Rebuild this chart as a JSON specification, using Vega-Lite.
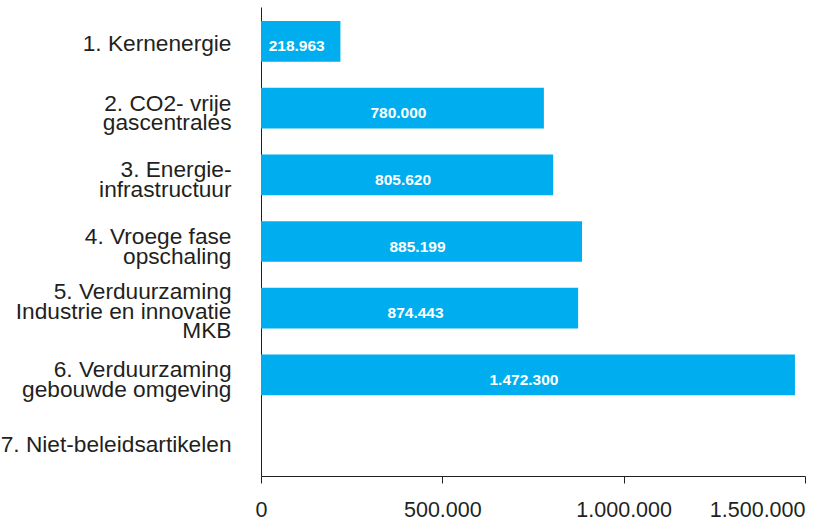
{
  "$schema": "https://vega.github.io/schema/vega-lite/v6.json",
  "width": 544,
  "height": 469,
  "autosize": {"type": "none"},
  "padding": {"left": 261, "top": 7, "right": 13, "bottom": 45},
  "background": "white",
  "config": {
    "view": {"stroke": null},
    "locale": {"number": {"decimal": ",", "thousands": ".", "grouping": [3], "currency": ["€", ""]}},
    "font": "Liberation Sans"
  },
  "data": {
    "values": [
      {"cat": "1. Kernenergie", "value": 218963},
      {"cat": "2. CO2- vrije\ngascentrales", "value": 780000},
      {"cat": "3. Energie-\ninfrastructuur", "value": 805620},
      {"cat": "4. Vroege fase\nopschaling", "value": 885199},
      {"cat": "5. Verduurzaming\nIndustrie en innovatie\nMKB", "value": 874443},
      {"cat": "6. Verduurzaming\ngebouwde omgeving", "value": 1472300},
      {"cat": "7. Niet-beleidsartikelen", "value": null}
    ]
  },
  "encoding": {
    "y": {
      "field": "cat",
      "type": "nominal",
      "sort": null,
      "title": null,
      "scale": {
        "domain": [
          "1. Kernenergie",
          "2. CO2- vrije\ngascentrales",
          "3. Energie-\ninfrastructuur",
          "4. Vroege fase\nopschaling",
          "5. Verduurzaming\nIndustrie en innovatie\nMKB",
          "6. Verduurzaming\ngebouwde omgeving",
          "7. Niet-beleidsartikelen"
        ],
        "paddingInner": 0.39,
        "paddingOuter": 0.21
      },
      "axis": {
        "labelExpr": "split(datum.label, '\\n')",
        "labelFont": "Liberation Sans",
        "labelFontSize": 22.7,
        "labelLineHeight": 19.5,
        "labelColor": "#231F20",
        "labelPadding": 30,
        "labelLimit": 400,
        "labelBaseline": "middle",
        "labelOffset": {
          "condition": [
            {"test": "length(split(datum.value, '\\n')) == 3", "value": -16},
            {"test": "length(split(datum.value, '\\n')) == 2", "value": -4.5}
          ],
          "value": 3
        },
        "ticks": false,
        "domainColor": "#231F20",
        "domainWidth": 1,
        "grid": false
      }
    }
  },
  "layer": [
    {
      "mark": {"type": "bar", "color": "#00AEEF"},
      "encoding": {
        "x": {
          "field": "value",
          "type": "quantitative",
          "title": null,
          "scale": {"domain": [0, 1500000], "nice": false},
          "axis": {
            "values": [0, 500000, 1000000, 1500000],
            "format": ",d",
            "grid": false,
            "labelFont": "Liberation Sans",
            "labelFontSize": 21.5,
            "labelColor": "#231F20",
            "labelPadding": 16,
            "labelAlign": {"condition": {"test": "datum.value == 1500000", "value": "right"}, "value": "center"},
            "tickSize": 7,
            "tickColor": "#231F20",
            "domainColor": "#231F20",
            "labelFlush": false
          }
        }
      }
    },
    {
      "mark": {"type": "text", "color": "white", "font": "Liberation Sans", "fontSize": 15.5, "fontWeight": "bold", "baseline": "middle", "align": "center", "dx": -4, "dy": 5},
      "encoding": {
        "x": {"field": "value", "type": "quantitative", "stack": "zero", "bandPosition": 0.5},
        "text": {"field": "value", "type": "quantitative", "format": ",d"}
      }
    }
  ]
}
